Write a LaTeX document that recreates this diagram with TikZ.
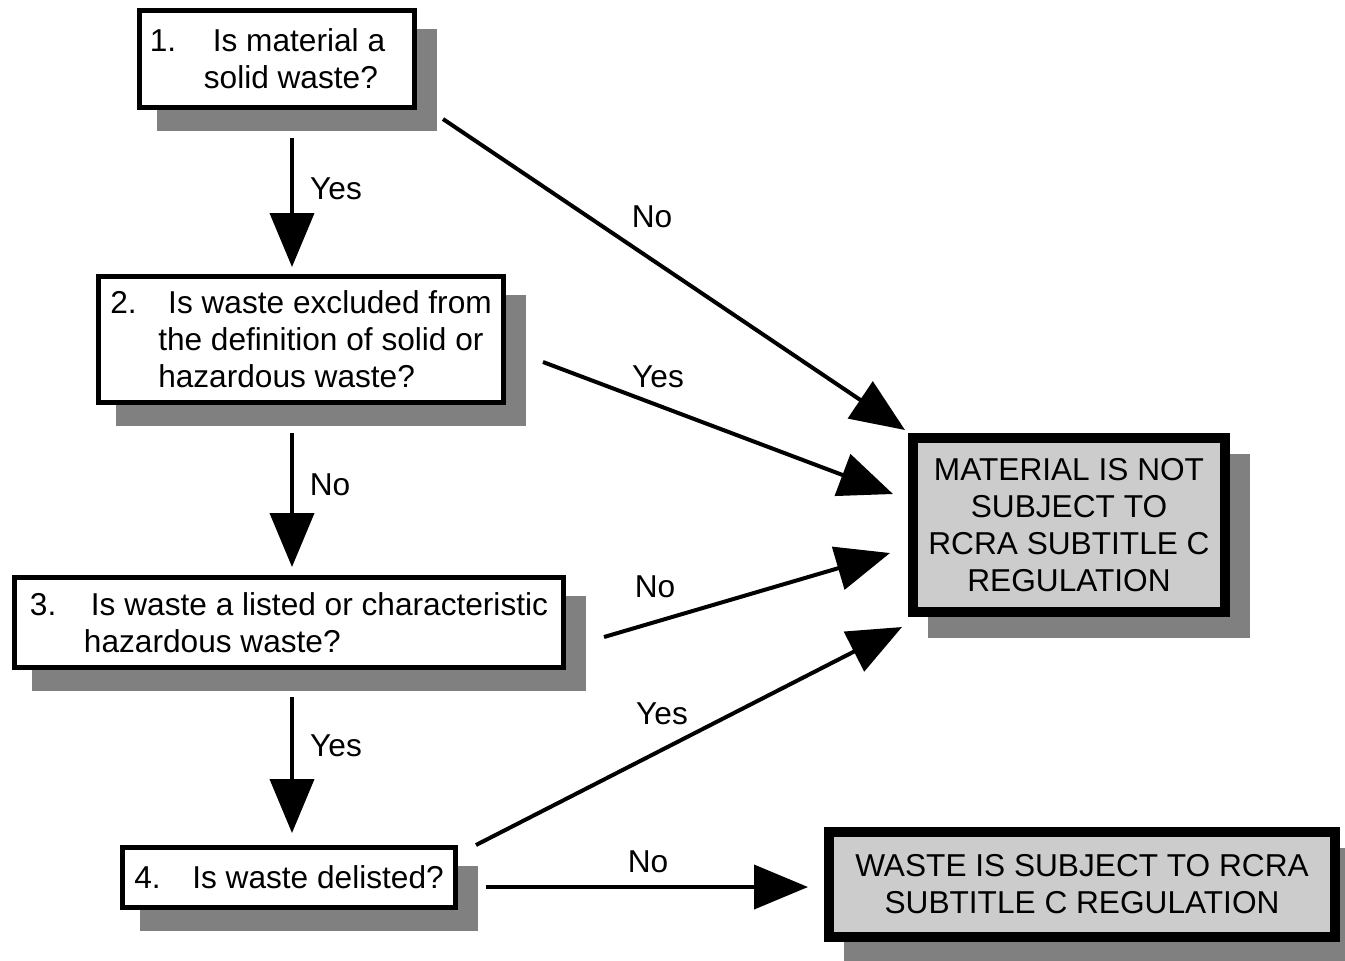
\documentclass[tikz,border=0pt]{standalone}
\usepackage{fontspec}
\setmainfont{Liberation Sans}
\usetikzlibrary{arrows.meta}

\definecolor{shadowgray}{HTML}{808080}
\definecolor{endgray}{HTML}{CCCCCC}

\tikzset{
  qbox/.style={draw, line width=0.055cm, fill=white, inner sep=0pt, align=left,
    preaction={fill=shadowgray, draw=shadowgray, line width=0.055cm,
      transform canvas={shift={(0.2,-0.21)}}}},
  endbox/.style={draw, line width=0.1cm, fill=endgray, inner sep=0pt, align=center,
    preaction={fill=shadowgray, draw=shadowgray, line width=0.1cm,
      transform canvas={shift={(0.2,-0.21)}}}},
  arr/.style={line width=0.04cm, -{Triangle[length=0.54cm, width=0.44cm]}},
  lbl/.style={inner sep=0pt}
}

\begin{document}
\begin{tikzpicture}[font=\fontsize{9}{10.5}\selectfont]
\useasboundingbox (0,0) rectangle (13.45,-9.60);

% questions
\node[qbox, minimum width=2.75cm, minimum height=0.97cm] (q1) at (2.77,-0.59)
  {\makebox[0.63cm][l]{1.}Is material a\hspace*{0.19cm}\\\hspace*{0.54cm}solid waste?};
\node[qbox, minimum width=4.05cm, minimum height=1.26cm] (q2) at (3.01,-3.395)
  {\makebox[0.58cm][l]{2.}Is waste excluded from\\\hspace*{0.48cm}the definition of solid or\\\hspace*{0.48cm}hazardous waste?};
\node[qbox, minimum width=5.49cm, minimum height=0.90cm] (q3) at (2.89,-6.225)
  {\makebox[0.61cm][l]{3.}Is waste a listed or characteristic\\\hspace*{0.54cm}hazardous waste?};
\node[qbox, minimum width=3.33cm, minimum height=0.60cm] (q4) at (2.89,-8.775)
  {\makebox[0.58cm][l]{4.}Is waste delisted?};

% outcomes
\node[endbox, minimum width=3.12cm, minimum height=1.74cm] (notsub) at (10.69,-5.25)
  {MATERIAL IS NOT\\SUBJECT TO\\RCRA SUBTITLE C\\REGULATION};
\node[endbox, minimum width=5.06cm, minimum height=1.05cm] (sub) at (10.82,-8.845)
  {WASTE IS SUBJECT TO RCRA\\SUBTITLE C REGULATION};

% arrow ends
\coordinate (a1s) at (2.92,-1.38);  \coordinate (a1e) at (2.92,-2.67);
\coordinate (a2s) at (2.92,-4.33);  \coordinate (a2e) at (2.92,-5.67);
\coordinate (a3s) at (2.92,-6.97);  \coordinate (a3e) at (2.92,-8.33);
\coordinate (b1s) at (4.43,-1.19);  \coordinate (b1e) at (9.05,-4.30);
\coordinate (b2s) at (5.43,-3.62);  \coordinate (b2e) at (8.93,-4.94);
\coordinate (b3s) at (6.04,-6.37);  \coordinate (b3e) at (8.90,-5.53);
\coordinate (b4s) at (4.76,-8.45);  \coordinate (b4e) at (9.02,-6.27);
\coordinate (c4s) at (4.86,-8.87);  \coordinate (c4e) at (8.08,-8.87);

\draw[arr] (a1s) -- (a1e) node[lbl] (l1) at (3.36,-1.89) {Yes};
\draw[arr] (a2s) -- (a2e) node[lbl] (l2) at (3.30,-4.85) {No};
\draw[arr] (a3s) -- (a3e) node[lbl] (l3) at (3.36,-7.46) {Yes};
\draw[arr] (b1s) -- (b1e) node[lbl] (l4) at (6.52,-2.17) {No};
\draw[arr] (b2s) -- (b2e) node[lbl] (l5) at (6.58,-3.77) {Yes};
\draw[arr] (b3s) -- (b3e) node[lbl] (l6) at (6.55,-5.87) {No};
\draw[arr] (b4s) -- (b4e) node[lbl] (l7) at (6.62,-7.14) {Yes};
\draw[arr] (c4s) -- (c4e) node[lbl] (l8) at (6.48,-8.62) {No};
\end{tikzpicture}
\end{document}
